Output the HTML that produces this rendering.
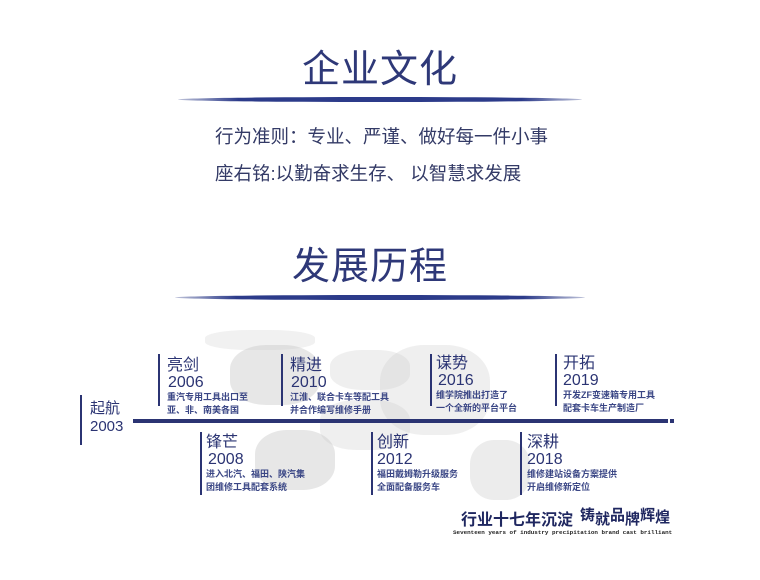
<!DOCTYPE html>
<html><head><meta charset="utf-8"><style>
body{margin:0;width:760px;height:580px;background:#fff;position:relative;overflow:hidden;font-family:"Liberation Sans","Noto Sans CJK SC",sans-serif;}
.a{position:absolute;white-space:nowrap;color:#2b3473;}
.t{font-size:38px;letter-spacing:1px;color:#2e3878;}
.ln{position:absolute;height:5px;border-radius:50%;background:linear-gradient(90deg,rgba(40,55,130,.3),#2c3b8a 15%,#2c3b8a 85%,rgba(40,55,130,.3));}
.bar{position:absolute;width:2px;background:#2b3473;}
.h{font-size:16px;line-height:17px;}
.y{font-size:16px;line-height:17px;}
.s{font-size:9px;line-height:13px;font-weight:bold;color:#3a4685;}
.m{position:absolute;background:#c9c9c9;border-radius:40%;opacity:.45;}
</style></head><body>
<div class="a t" style="left:302px;top:38px;">企业文化</div>
<div class="ln" style="left:178px;top:97px;width:404px;"></div>
<div class="a" style="left:215px;top:123px;font-size:18.5px;color:#333a66;">行为准则：专业、严谨、做好每一件小事</div>
<div class="a" style="left:215px;top:160px;font-size:18.5px;color:#333a66;">座右铭:以勤奋求生存、 以智慧求发展</div>
<div class="a t" style="left:292px;top:235px;">发展历程</div>
<div class="ln" style="left:175px;top:295px;width:410px;"></div>

<div class="m" style="left:230px;top:345px;width:90px;height:60px;"></div>
<div class="m" style="left:330px;top:350px;width:80px;height:40px;opacity:.3"></div>
<div class="m" style="left:380px;top:345px;width:110px;height:90px;opacity:.3"></div>
<div class="m" style="left:255px;top:430px;width:80px;height:60px;"></div>
<div class="m" style="left:320px;top:400px;width:90px;height:50px;opacity:.3"></div>
<div class="m" style="left:470px;top:440px;width:60px;height:60px;opacity:.35"></div>
<div class="m" style="left:205px;top:330px;width:110px;height:20px;opacity:.25"></div>

<div style="position:absolute;left:133px;top:419px;width:535px;height:4px;background:#2b3473;"></div>
<div style="position:absolute;left:670px;top:419px;width:4px;height:4px;background:#2b3473;"></div>

<div class="bar" style="left:80px;top:395px;height:50px;"></div>
<div class="a" style="left:90px;top:400px;font-size:15px;line-height:18px;">起航<br>2003</div>

<div class="bar" style="left:158px;top:354px;height:52px;"></div>
<div class="a h" style="left:167px;top:357px;">亮剑</div><div class="a y" style="left:168px;top:374px;">2006</div>
<div class="a s" style="left:167px;top:391px;">重汽专用工具出口至<br>亚、非、南美各国</div>

<div class="bar" style="left:281px;top:354px;height:52px;"></div>
<div class="a h" style="left:290px;top:357px;">精进</div><div class="a y" style="left:291px;top:374px;">2010</div>
<div class="a s" style="left:290px;top:391px;">江淮、联合卡车等配工具<br>并合作编写维修手册</div>

<div class="bar" style="left:430px;top:354px;height:52px;"></div>
<div class="a h" style="left:436px;top:355px;">谋势</div><div class="a y" style="left:438px;top:372px;">2016</div>
<div class="a s" style="left:436px;top:389px;">维学院推出打造了<br>一个全新的平台平台</div>

<div class="bar" style="left:555px;top:354px;height:52px;"></div>
<div class="a h" style="left:563px;top:355px;">开拓</div><div class="a y" style="left:563px;top:372px;">2019</div>
<div class="a s" style="left:563px;top:389px;">开发ZF变速箱专用工具<br>配套卡车生产制造厂</div>

<div class="bar" style="left:200px;top:432px;height:63px;"></div>
<div class="a h" style="left:206px;top:434px;">锋芒</div><div class="a y" style="left:208px;top:451px;">2008</div>
<div class="a s" style="left:206px;top:468px;">进入北汽、福田、陕汽集<br>团维修工具配套系统</div>

<div class="bar" style="left:371px;top:432px;height:63px;"></div>
<div class="a h" style="left:377px;top:434px;">创新</div><div class="a y" style="left:377px;top:451px;">2012</div>
<div class="a s" style="left:377px;top:468px;">福田戴姆勒升级服务<br>全面配备服务车</div>

<div class="bar" style="left:520px;top:432px;height:63px;"></div>
<div class="a h" style="left:527px;top:434px;">深耕</div><div class="a y" style="left:527px;top:451px;">2018</div>
<div class="a s" style="left:527px;top:468px;">维修建站设备方案提供<br>开启维修新定位</div>

<div class="a" style="left:461px;top:506px;font-size:16px;font-weight:bold;color:#1f2760;">行业十七年沉淀</div>
<div class="a" style="left:580px;top:504px;font-size:15px;font-weight:bold;color:#1f2760;">铸<span style="position:relative;top:4px">就</span>品<span style="position:relative;top:4px">牌</span>辉<span style="position:relative;top:2px">煌</span></div>
<div class="a" style="left:453px;top:529px;font-size:5.9px;font-family:'Liberation Mono',monospace;color:#222;font-weight:bold;">Seventeen years of industry precipitation brand cast brilliant</div>
</body></html>
